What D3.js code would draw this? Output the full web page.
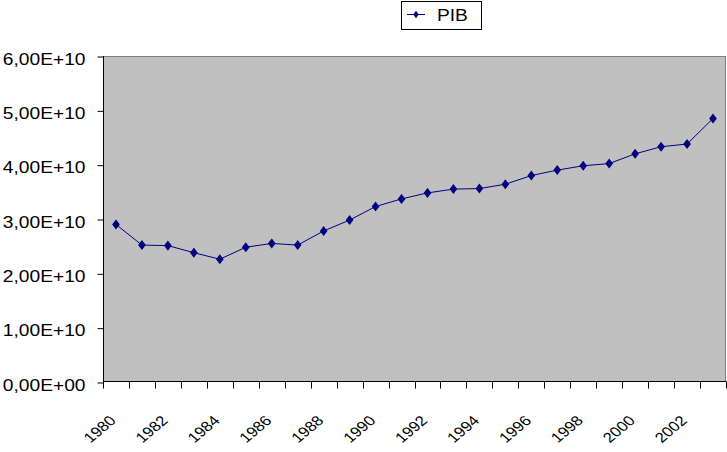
<!DOCTYPE html>
<html>
<head>
<meta charset="utf-8">
<script src="https://cdn.jsdelivr.net/npm/d3@7"></script>
<style>
  body { margin: 0; background: #fff; }
  svg { display: block; font-family: "Liberation Sans", Arial, sans-serif; }
</style>
</head>
<body>
<svg id="chart" width="727" height="452"></svg>
<script>
// data
const years = [1980, 1981, 1982, 1983, 1984, 1985, 1986, 1987, 1988, 1989, 1990, 1991,
               1992, 1993, 1994, 1995, 1996, 1997, 1998, 1999, 2000, 2001, 2002, 2003];
const pib = [2.90e10, 2.52e10, 2.51e10, 2.38e10, 2.26e10, 2.48e10, 2.55e10, 2.52e10,
             2.78e10, 2.98e10, 3.23e10, 3.37e10, 3.48e10, 3.55e10, 3.56e10, 3.64e10,
             3.80e10, 3.90e10, 3.98e10, 4.02e10, 4.20e10, 4.33e10, 4.38e10, 4.85e10];
const yTicks = [0, 1e10, 2e10, 3e10, 4e10, 5e10, 6e10];
const yTickLabels = ["0,00E+00", "1,00E+10", "2,00E+10", "3,00E+10", "4,00E+10", "5,00E+10", "6,00E+10"];
const xTickLabels = years.filter((y, i) => i % 2 === 0);
const seriesName = "PIB";

const svg = d3.select("#chart");
const plot = {left: 103, right: 726, top: 56, bottom: 382};
const navy = "#000080";

const x = d3.scaleBand().domain(years).range([plot.left, plot.right]);
const y = d3.scaleLinear().domain([0, 6e10]).range([plot.bottom, plot.top]);

// plot area
svg.append("rect")
    .attr("x", plot.left + 0.5).attr("y", plot.top + 0.5)
    .attr("width", plot.right - plot.left - 1).attr("height", plot.bottom - plot.top - 1)
    .attr("fill", "#c0c0c0")
    .attr("stroke", "#808080");

// y axis
const yAxis = svg.append("g")
    .attr("transform", "translate(" + (plot.left + 0.5) + ",0.5)")
    .call(d3.axisLeft(y).tickValues(yTicks).tickSize(6).tickPadding(0)
      .tickFormat((d, i) => yTickLabels[i]));
yAxis.select(".domain").attr("stroke", "#000").attr("d", "M0," + (plot.top - 0.5) + "V" + (plot.bottom - 0.5));
yAxis.selectAll(".tick line").attr("stroke", "#000");
yAxis.selectAll(".tick text")
    .attr("x", 0).attr("dy", null).attr("y", 7.5)
    .attr("transform", "translate(-18,0) scale(1.2,1)")
    .attr("text-anchor", "end")
    .attr("font-size", 16)
    .attr("fill", "#000");

// x axis (category boundaries as ticks)
const xAxis = svg.append("g").attr("transform", "translate(0," + (plot.bottom - 0.5) + ")");
xAxis.append("line")
    .attr("x1", plot.left).attr("x2", plot.right)
    .attr("stroke", "#000");
xAxis.selectAll("line.tk")
  .data(years.concat([null]))
  .join("line")
    .attr("class", "tk")
    .attr("x1", (d, i) => Math.round(i < years.length ? x(d) : plot.right) + 0.5)
    .attr("x2", (d, i) => Math.round(i < years.length ? x(d) : plot.right) + 0.5)
    .attr("y1", 0).attr("y2", 7)
    .attr("stroke", "#000");
xAxis.selectAll("text")
  .data(xTickLabels)
  .join("text")
    .attr("transform", d => "translate(" + (x(d) + x.bandwidth() / 2 + 1) + ",40) scale(1.2,1) rotate(-45)")
    .attr("text-anchor", "end")
    .attr("font-size", 14)
    .text(d => d);

// series
const line = d3.line()
    .x((d, i) => x(years[i]) + x.bandwidth() / 2)
    .y(d => y(d));
svg.append("path")
    .datum(pib)
    .attr("d", line)
    .attr("fill", "none")
    .attr("stroke", navy)
    .attr("stroke-width", 1);

const marker = d3.symbol().type(d3.symbolDiamond).size(24);
svg.selectAll("path.pt")
  .data(pib)
  .join("path")
    .attr("class", "pt")
    .attr("transform", (d, i) => "translate(" + (x(years[i]) + x.bandwidth() / 2) + "," + y(d) + ") scale(1.2,0.9)")
    .attr("d", marker)
    .attr("fill", navy)
    .attr("stroke", navy)
    .attr("stroke-width", 1);

// legend
const legend = svg.append("g");
legend.append("rect")
    .attr("x", 401.5).attr("y", 1.5).attr("width", 80).attr("height", 28)
    .attr("fill", "#fff").attr("stroke", "#000");
legend.append("line")
    .attr("x1", 407).attr("x2", 425).attr("y1", 14.5).attr("y2", 14.5)
    .attr("stroke", navy);
legend.append("path")
    .attr("transform", "translate(416,14.5) scale(0.9,0.7)")
    .attr("d", marker)
    .attr("fill", navy).attr("stroke", navy);
legend.append("text")
    .attr("x", 0).attr("y", 0)
    .attr("transform", "translate(437,20.5) scale(1.2,1)")
    .attr("font-size", 16)
    .text(seriesName);
</script>
</body>
</html>
